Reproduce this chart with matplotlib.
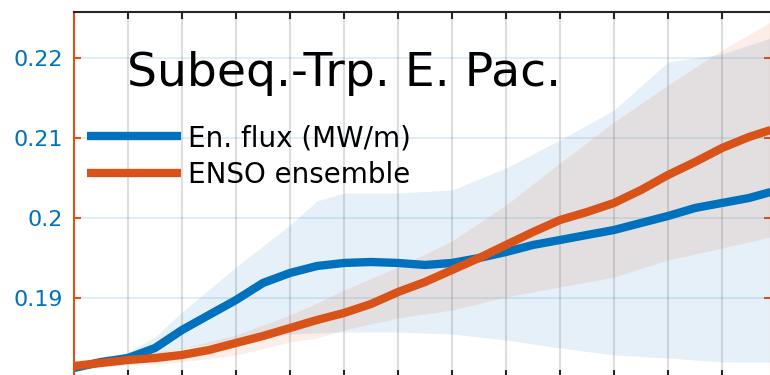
import matplotlib
matplotlib.use('Agg')
import matplotlib.pyplot as plt

# time axis (grid units) and the two curves
x_line = [0, 0.5, 1, 1.5, 2, 2.5, 3, 3.5, 4, 4.5, 5, 5.5, 6, 6.5, 7, 7.5,
          8, 8.5, 9, 9.5, 10, 10.5, 11, 11.5, 12, 12.5, 12.9]
en_flux = [0.18125, 0.182, 0.1825, 0.18375, 0.186, 0.18788, 0.18975, 0.19188,
           0.19313, 0.194, 0.19438, 0.1945, 0.19438, 0.19413, 0.19438, 0.195,
           0.19575, 0.19663, 0.19725, 0.19788, 0.1985, 0.19938, 0.20025,
           0.20125, 0.20188, 0.2025, 0.20325]
enso = [0.1815, 0.18188, 0.18225, 0.1825, 0.18288, 0.1835, 0.18438, 0.18525,
        0.18625, 0.18725, 0.18813, 0.18925, 0.19075, 0.192, 0.1935, 0.195,
        0.19663, 0.19825, 0.19975, 0.20075, 0.20188, 0.2035, 0.20538, 0.207,
        0.20875, 0.21013, 0.211]

# spread bands
x_band = [0, 0.5, 1, 1.5, 2, 3, 4, 4.5, 5, 6, 7, 8, 9, 10, 11, 12, 12.9]
flux_hi = [0.18125, 0.18213, 0.18325, 0.18513, 0.18825, 0.19388, 0.19913,
           0.20213, 0.20313, 0.20313, 0.2035, 0.20625, 0.20975, 0.2135,
           0.2195, 0.2205, 0.2225]
flux_lo = [0.18125, 0.1815, 0.18225, 0.183, 0.18375, 0.18475, 0.1855,
           0.18563, 0.18575, 0.18575, 0.1855, 0.18475, 0.18375, 0.18288,
           0.1825, 0.182, 0.182]
enso_hi = [0.1815, 0.182, 0.18275, 0.18325, 0.18375, 0.18538, 0.18788,
           0.18938, 0.191, 0.19388, 0.19713, 0.20163, 0.20688, 0.212,
           0.21663, 0.221, 0.2245]
enso_lo = [0.1815, 0.1815, 0.18163, 0.18175, 0.182, 0.18288, 0.1845, 0.185,
           0.186, 0.1875, 0.1885, 0.19013, 0.19138, 0.19263, 0.19475,
           0.19625, 0.19763]

y_ticks = [0.19, 0.2, 0.21, 0.22]
y_labels = ['0.19', '0.2', '0.21', '0.22']
x_ticks = list(range(0, 13))

blue = '#0072BD'
orange = '#D95319'

fig = plt.figure(figsize=(7.7, 3.75), dpi=100)
ax = fig.add_axes([74 / 770, -2 / 375, 697 / 770, 365 / 375])

ax.fill_between(x_band, flux_lo, flux_hi, color=blue, alpha=0.1, lw=0)
ax.fill_between(x_band, enso_lo, enso_hi, color=orange, alpha=0.1, lw=0)
ax.plot(x_line, en_flux, color=blue, lw=6, solid_capstyle='butt',
        label='En. flux (MW/m)')
ax.plot(x_line, enso, color=orange, lw=6, solid_capstyle='butt',
        label='ENSO ensemble')

ax.set_xlim(0, 12.907)
ax.set_ylim(0.180125, 0.22575)
ax.set_xticks(x_ticks)
ax.set_xticklabels([])
ax.set_yticks(y_ticks)
ax.set_yticklabels(y_labels)

# grid: vertical grey, horizontal bluish (like matlab yyaxis)
ax.set_axisbelow(True)
ax.xaxis.grid(True, color='#262626', alpha=0.15, lw=1.5)
ax.yaxis.grid(True, color=blue, alpha=0.12, lw=1.5)

ax.tick_params(axis='x', direction='in', length=5, width=1.5,
               color='#262626', top=True, bottom=True)
ax.tick_params(axis='y', direction='in', length=5, width=1.5,
               color=orange, labelcolor=blue, labelsize=16, pad=8,
               left=True, right=True)

for side in ['left', 'right']:
    ax.spines[side].set_color(orange)
    ax.spines[side].set_linewidth(1.5)
for side in ['top', 'bottom']:
    ax.spines[side].set_color('#262626')
    ax.spines[side].set_linewidth(1.5)

fig.text(127 / 770, 1 - 86 / 375, 'Subeq.-Trp. E. Pac.', fontsize=34,
         color='black', ha='left', va='baseline')

ax.legend(loc='upper left', bbox_to_anchor=(87 / 770, 1 - 124 / 375),
          bbox_transform=fig.transFigure, frameon=False, fontsize=20,
          handlelength=3.4, handletextpad=0.25, labelspacing=0.33,
          borderpad=0, borderaxespad=0)

fig.savefig('out.png', dpi=100)
